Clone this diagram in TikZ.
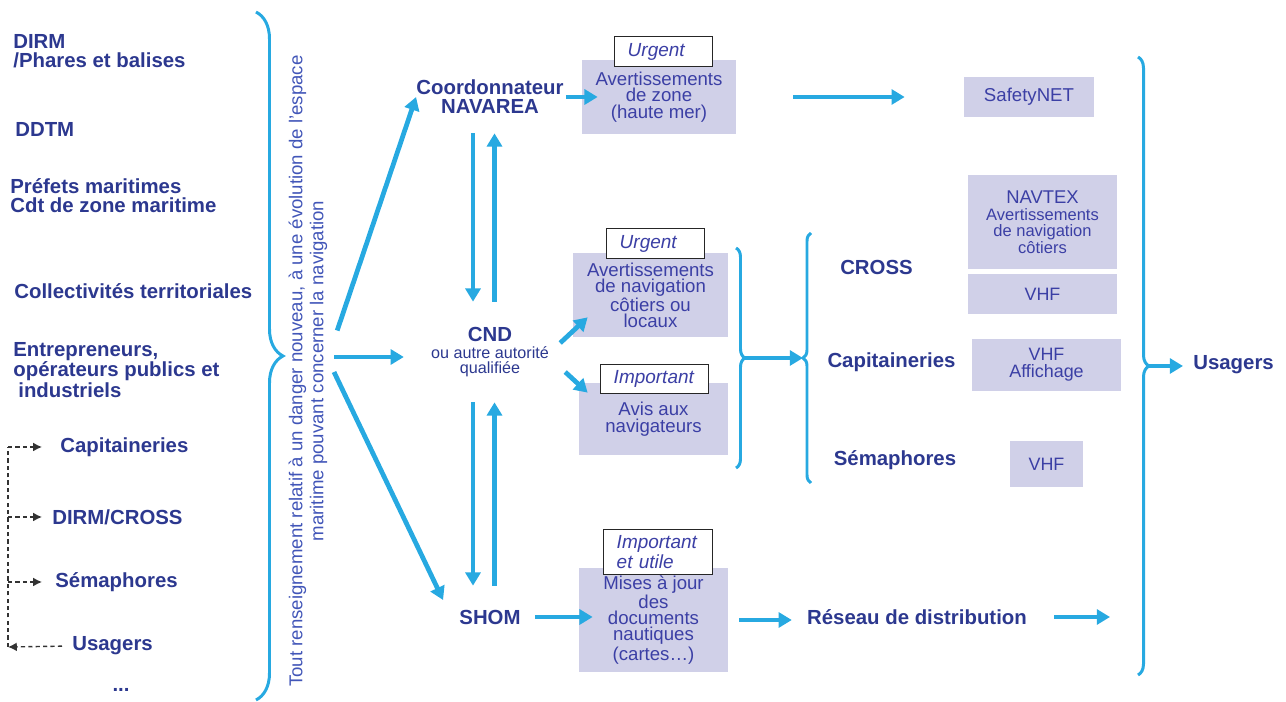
\documentclass[tikz,border=0pt]{standalone}
\usepackage{fontspec}
\setmainfont{Liberation Sans}
\usetikzlibrary{arrows.meta,decorations.pathreplacing}
\definecolor{navy}{HTML}{2C388F}
\definecolor{ink}{HTML}{3B3FA5}
\definecolor{inkside}{HTML}{4256B8}
\definecolor{sky}{HTML}{27A9E1}
\definecolor{lilac}{HTML}{D0D0E8}

\begin{document}
\begin{tikzpicture}[x=0.02cm,y=-0.02cm,
  head/.style={inner sep=0pt,text=navy,align=left,font=\bfseries\fontsize{11.6}{10.8}\selectfont},
  msg/.style={fill=lilac,inner sep=0pt,align=center,text=ink,font=\fontsize{10.6}{9.4}\selectfont},
  tag/.style={draw=black!85,line width=0.85pt,fill=white,anchor=north west,inner xsep=0.26cm,inner ysep=0pt,
    align=left,text=ink,font=\itshape\fontsize{10.8}{9.1}\selectfont,text width=#1},
  flow/.style={draw=sky,line width=2.7pt,-{Triangle[length=7.5pt,width=8.5pt]}},
  curly/.style={draw=sky,line width=1.7pt,decorate,decoration={brace,amplitude=#1}},
  dashlink/.style={draw=black!80,line width=0.8pt,dash pattern=on 2.4pt off 1.8pt},
  tiplink/.style={dashlink,-{Latex[length=5pt,width=5pt]}}]
\path[use as bounding box] (0,0) rectangle (1286,702);

\node[head,anchor=west] (dirm) at (13,51) {DIRM\\/Phares et balises};
\node[head,anchor=west] (ddtm) at (15,129) {DDTM};
\node[head,anchor=west] (prefets) at (10,196) {Préfets maritimes\\Cdt de zone maritime};
\node[head,anchor=west] (collect) at (14,291) {Collectivités territoriales};
\node[head,anchor=west] (entrep) at (13,370) {Entrepreneurs,\\opérateurs publics et\\\hspace*{0.1cm}industriels};
\node[head,anchor=west] (capitL) at (60,447) {Capitaineries};
\node[head,anchor=west] (dcross) at (52,517) {DIRM/CROSS};
\node[head,anchor=west] (semaphL) at (55,582) {Sémaphores};
\node[head,anchor=west] (usagL) at (72,646) {Usagers};
\node[head] (more) at (121,690) {...};

\coordinate (fbot) at (8,647);
\coordinate (ftop) at (8,447);
\draw[tiplink,shorten <=0.2cm] (usagL.west) -- (fbot);
\draw[dashlink] (fbot) -- (ftop);
\draw[tiplink,shorten >=0.36cm] (ftop) -- (capitL.west);
\draw[tiplink,shorten >=0.2cm] (ftop |- dcross.west) -- (dcross.west);
\draw[tiplink,shorten >=0.26cm] (ftop |- semaphL.west) -- (semaphL.west);

\coordinate (lbtop) at (256,12);
\coordinate (lbbot) at (256,700);
\draw[curly=0.54cm] (lbtop) -- (lbbot);
\node[rotate=90,align=center,inner sep=0pt,text=inkside,font=\fontsize{10.6}{12}\selectfont] (info) at (308,371)
  {Tout renseignement relatif à un danger nouveau, à une évolution de l{\char"0027}espace\\maritime pouvant concerner la navigation};
\coordinate (hub) at (334,357);

\node[head,align=center,minimum height=1.44cm] (navarea) at (490,97) {Coordonnateur\\NAVAREA};
\node[inner xsep=0pt,inner ysep=0pt,align=center,text=navy,minimum height=2cm,font=\fontsize{9.2}{8.6}\selectfont] (cnd) at (490,352)
  {{\bfseries\fontsize{11.6}{12}\selectfont CND}\\[1.5pt]ou autre autorité\\qualifiée};
\node[head,minimum height=1.24cm] (shom) at (490,617) {SHOM};

\node[msg,minimum width=3.08cm,minimum height=1.5cm] (avzone) at (659,97) {Avertissements\\de zone\\(haute mer)};
\node[msg,minimum width=3.1cm,minimum height=1.68cm,font=\fontsize{10.6}{9.1}\selectfont] (avnav) at (650.5,295) {Avertissements\\de navigation\\côtiers ou\\locaux};
\node[msg,minimum width=2.98cm,minimum height=1.44cm] (avis) at (653.5,419) {Avis aux\\navigateurs};
\node[msg,minimum width=2.98cm,minimum height=2.08cm,font=\fontsize{10.6}{9.1}\selectfont] (mises) at (653.5,620)
  {Mises à jour\\des\\documents\\nautiques\\(cartes…)};

\node[tag=1.44cm,minimum height=0.6cm] (urg1) at (614,36) {Urgent};
\node[tag=1.44cm,minimum height=0.6cm] (urg2) at (606,228) {Urgent};
\node[tag=1.64cm,minimum height=0.58cm] (imp1) at (600,364) {Important};
\node[tag=1.66cm,minimum height=0.9cm] (imp2) at (603,529) {Important\\et utile};

\draw[flow,shorten <=0.2cm] ([yshift=0.34cm]hub) -- (navarea.west);
\draw[flow,shorten >=0.54cm] (hub) -- (hub -| cnd.west);
\draw[flow] ([yshift=-0.3cm]hub) -- ([xshift=-0.32cm,yshift=0.34cm]shom.west);

\draw[flow] ([xshift=-0.34cm]navarea.south) -- ([xshift=-0.34cm]cnd.north);
\draw[flow] ([xshift=0.09cm]cnd.north) -- ([xshift=0.09cm]navarea.south);
\draw[flow] ([xshift=-0.34cm]cnd.south) -- ([xshift=-0.34cm]shom.north);
\draw[flow] ([xshift=0.09cm]shom.north) -- ([xshift=0.09cm]cnd.south);

\draw[flow,shorten <=0.04cm] (navarea.east) -- ([xshift=0.32cm]avzone.west);
\draw[flow] ([xshift=0.22cm,yshift=0.18cm]cnd.east) -- ([xshift=0.3cm,yshift=0.4cm]avnav.south west);
\draw[flow] ([xshift=0.32cm,yshift=-0.4cm]cnd.east) -- ([xshift=0.18cm,yshift=-0.2cm]avis.north west);
\draw[flow,shorten <=0.28cm,shorten >=-0.28cm] (shom.east) -- (shom.east -| mises.west);

\node[msg,minimum width=2.6cm,minimum height=0.8cm] (safety) at (1029,97) {SafetyNET};
\draw[flow,shorten <=1.14cm,shorten >=1.18cm] (avzone.east) -- (safety.west);

\coordinate (atop) at (736,248);
\coordinate (abot) at (736,468);
\coordinate (btop) at (811,233);
\coordinate (bbot) at (811,483);
\draw[curly=0.18cm] (atop) -- (abot);
\draw[curly=0.16cm] (bbot) -- (btop);
\coordinate (atip) at (745,358);
\coordinate (btip) at (803,358);
\draw[flow] (atip) -- (btip);

\node[head] (cross) at (876.5,267) {CROSS};
\node[head] (capitR) at (891.5,362) {Capitaineries};
\node[head] (semaphR) at (895,460) {Sémaphores};

\node[msg,minimum width=2.98cm,minimum height=1.88cm] (navtex) at (1042.5,222)
  {{\fontsize{10.5}{10}\selectfont NAVTEX}\\{\fontsize{9.4}{8.3}\selectfont Avertissements}\\{\fontsize{9.4}{8.3}\selectfont de navigation}\\{\fontsize{9.4}{8.3}\selectfont côtiers}};
\node[msg,minimum width=2.98cm,minimum height=0.8cm,font=\fontsize{10.2}{9.6}\selectfont] (vhfa) at (1042.5,294) {VHF};
\node[msg,minimum width=2.98cm,minimum height=1.04cm,font=\fontsize{10.2}{9.6}\selectfont] (vhfb) at (1046.5,365) {VHF\\Affichage};
\node[msg,minimum width=1.46cm,minimum height=0.92cm,font=\fontsize{10.2}{9.6}\selectfont] (vhfc) at (1046.5,464) {VHF};

\node[head] (reseau) at (917,617) {Réseau de distribution};
\draw[flow,shorten <=0.22cm,shorten >=0.3cm] (mises.east) -- (mises.east -| reseau.west);

\coordinate (rbtop) at (1138,57);
\coordinate (rbbot) at (1138,675);
\draw[curly=0.22cm] (rbtop) -- (rbbot);
\draw[flow,shorten <=0.54cm,shorten >=0.56cm] (reseau.east) -- (reseau.east -| rbtop);
\coordinate (rtip) at (1149,366);
\node[head,anchor=west] (usagR) at (1193,365) {Usagers};
\draw[flow,shorten >=0.2cm] (rtip) -- (rtip -| usagR.west);
\end{tikzpicture}
\end{document}
